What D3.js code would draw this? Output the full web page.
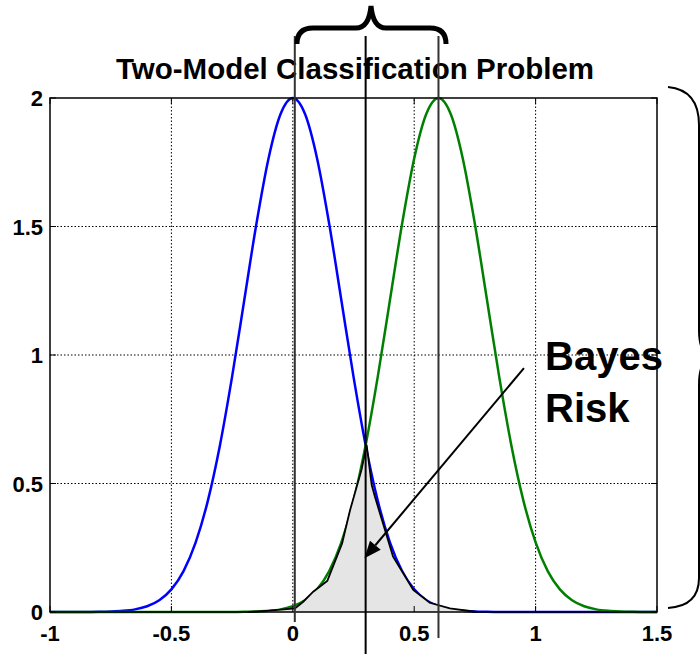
<!DOCTYPE html>
<html>
<head>
<meta charset="utf-8">
<script src="https://cdn.jsdelivr.net/npm/d3@7"></script>
<style>
  html, body { margin: 0; padding: 0; background: #fff; }
  svg { display: block; }
  text { font-family: "Liberation Sans", Arial, sans-serif; font-weight: bold; fill: #000; }
</style>
</head>
<body>
<svg id="chart" width="700" height="654"></svg>
<script>
// Sample positions along x (step 0.05 from -1 to 1.5)
const xSamples = d3.range(51).map(i => +(-1 + i * 0.05).toFixed(2));

// Class 1 density (centred at 0)
const class1 = [0, 0, 0.0001, 0.0002, 0.0007, 0.0018, 0.0044, 0.0102, 0.0222, 0.0456,
  0.0879, 0.1591, 0.2707, 0.4325, 0.6492, 0.9157, 1.2131, 1.5099, 1.7650, 1.9385,
  2.0,
  1.9385, 1.7650, 1.5099, 1.2131, 0.9157, 0.6492, 0.4325, 0.2707, 0.1591, 0.0879,
  0.0456, 0.0222, 0.0102, 0.0044, 0.0018, 0.0007, 0.0002, 0.0001,
  0, 0, 0, 0, 0, 0, 0, 0, 0, 0, 0, 0];

// Class 2 density (centred at 0.6)
const class2 = [0, 0, 0, 0, 0, 0, 0, 0, 0, 0, 0, 0, 0, 0,
  0.0001, 0.0002, 0.0007, 0.0018, 0.0044, 0.0102, 0.0222, 0.0456, 0.0879, 0.1591,
  0.2707, 0.4325, 0.6492, 0.9157, 1.2131, 1.5099, 1.7650, 1.9385,
  2.0,
  1.9385, 1.7650, 1.5099, 1.2131, 0.9157, 0.6492, 0.4325, 0.2707, 0.1591, 0.0879,
  0.0456, 0.0222, 0.0102, 0.0044, 0.0018, 0.0007, 0.0002, 0.0001];

// Overlap region (Bayes risk) outline
const riskX = [-0.185, -0.095, 0.009, 0.043, 0.084, 0.142, 0.203, 0.236, 0.283, 0.304,
  0.325, 0.338, 0.413, 0.496, 0.564, 0.647, 0.758];
const riskY = [0, 0.005, 0.014, 0.040, 0.079, 0.121, 0.267, 0.397, 0.553, 0.650,
  0.494, 0.449, 0.215, 0.086, 0.036, 0.014, 0];

// Decision markers
const markers = [0, 0.3, 0.6];

const xTicks = [-1, -0.5, 0, 0.5, 1, 1.5];
const yTicks = [0, 0.5, 1, 1.5, 2];
const xTickLabels = ["-1", "-0.5", "0", "0.5", "1", "1.5"];
const yTickLabels = ["0", "0.5", "1", "1.5", "2"];

const titleText = "Two-Model Classification Problem";
const noteLines = ["Bayes", "Risk"];

const svg = d3.select("#chart");
const x = d3.scaleLinear().domain([-1, 1.5]).range([50, 657]);
const y = d3.scaleLinear().domain([0, 2]).range([612, 98]);

// Grid
const grid = svg.append("g");
grid.selectAll("line.gx").data(xTicks.slice(1, -1)).join("line")
  .attr("x1", d => x(d)).attr("x2", d => x(d))
  .attr("y1", y(0)).attr("y2", y(2))
  .attr("stroke", "#000").attr("stroke-width", 1).attr("stroke-dasharray", "1.5,2");
grid.selectAll("line.gy").data(yTicks.slice(1, -1)).join("line")
  .attr("y1", d => y(d)).attr("y2", d => y(d))
  .attr("x1", x(-1)).attr("x2", x(1.5))
  .attr("stroke", "#000").attr("stroke-width", 1).attr("stroke-dasharray", "1.5,2");

// Density curves
const line = d3.line().x(d => x(d[0])).y(d => y(d[1])).curve(d3.curveMonotoneX);
svg.append("path").attr("d", line(xSamples.map((v, i) => [v, class1[i]])))
  .attr("fill", "none").attr("stroke", "#0000ff").attr("stroke-width", 2.5);
svg.append("path").attr("d", line(xSamples.map((v, i) => [v, class2[i]])))
  .attr("fill", "none").attr("stroke", "#008000").attr("stroke-width", 2.5);

// Shaded overlap
const riskPts = riskX.map((v, i) => [v, riskY[i]]);
const area = d3.area().x(d => x(d[0])).y0(y(0)).y1(d => y(d[1]));
svg.append("path").attr("d", area(riskPts)).attr("fill", "#e5e5e5");
svg.append("path").attr("d", d3.line().x(d => x(d[0])).y(d => y(d[1]))(riskPts))
  .attr("fill", "none").attr("stroke", "#000").attr("stroke-width", 1.8);

// Axes box with inward ticks
const axes = svg.append("g");
axes.append("rect").attr("x", x(-1)).attr("y", y(2))
  .attr("width", x(1.5) - x(-1)).attr("height", y(0) - y(2))
  .attr("fill", "none").attr("stroke", "#000").attr("stroke-width", 1.5);
const tl = 6;
xTicks.forEach(t => {
  axes.append("line").attr("x1", x(t)).attr("x2", x(t)).attr("y1", y(0)).attr("y2", y(0) - tl).attr("stroke", "#000");
  axes.append("line").attr("x1", x(t)).attr("x2", x(t)).attr("y1", y(2)).attr("y2", y(2) + tl).attr("stroke", "#000");
});
yTicks.forEach(t => {
  axes.append("line").attr("y1", y(t)).attr("y2", y(t)).attr("x1", x(-1)).attr("x2", x(-1) + tl).attr("stroke", "#000");
  axes.append("line").attr("y1", y(t)).attr("y2", y(t)).attr("x1", x(1.5)).attr("x2", x(1.5) - tl).attr("stroke", "#000");
});
axes.selectAll("text.xt").data(xTicks).join("text")
  .attr("x", d => x(d)).attr("y", 641)
  .attr("text-anchor", "middle").attr("font-size", 22)
  .text((d, i) => xTickLabels[i]);
axes.selectAll("text.yt").data(yTicks).join("text")
  .attr("x", 43).attr("y", d => y(d) + 8)
  .attr("text-anchor", "end").attr("font-size", 22)
  .text((d, i) => yTickLabels[i]);

// Title
svg.append("text").attr("x", 355).attr("y", 79).attr("text-anchor", "middle")
  .attr("font-size", 29.5).text(titleText);

// Decision marker lines
const markerSpan = [[36, 622], [36, 654], [36, 638]];
markers.forEach((m, i) => {
  svg.append("line")
    .attr("x1", x(m) + (i === 0 ? 2 : 0)).attr("x2", x(m) + (i === 0 ? 2 : 0))
    .attr("y1", markerSpan[i][0]).attr("y2", markerSpan[i][1])
    .attr("stroke", i === 1 ? "#000" : "#333").attr("stroke-width", 2);
});

// Top brace spanning the two class means
svg.append("path")
  .attr("d", "M297,44 Q297,28 313,28 L356,28 Q369,28 371,6 Q373,28 386,28 L430,28 Q446,28 446,44")
  .attr("fill", "none").attr("stroke", "#000").attr("stroke-width", 5);

// Right brace spanning the full density range
svg.append("path")
  .attr("d", "M668,87 Q699,90 699,125 L699,330 Q699,357 715,357 Q699,357 699,385 L699,578 Q699,606 668,608")
  .attr("fill", "none").attr("stroke", "#000").attr("stroke-width", 2);

// Bayes risk annotation arrow
const tail = [x(0.952), y(0.949)];
const tip = [x(0.295), y(0.209)];
const ang = Math.atan2(tip[1] - tail[1], tip[0] - tail[0]);
const hl = 17, hw = 7;
const base = [tip[0] - hl * Math.cos(ang), tip[1] - hl * Math.sin(ang)];
svg.append("line").attr("x1", tail[0]).attr("y1", tail[1]).attr("x2", base[0]).attr("y2", base[1])
  .attr("stroke", "#000").attr("stroke-width", 2);
svg.append("path").attr("d", d3.line()([
  tip,
  [base[0] + hw * Math.sin(ang), base[1] - hw * Math.cos(ang)],
  [base[0] - hw * Math.sin(ang), base[1] + hw * Math.cos(ang)]
]) + "Z").attr("fill", "#000");

svg.selectAll("text.note").data(noteLines).join("text")
  .attr("x", 545).attr("y", (d, i) => 370 + i * 52)
  .attr("font-size", 40).text(d => d);
</script>
</body>
</html>
